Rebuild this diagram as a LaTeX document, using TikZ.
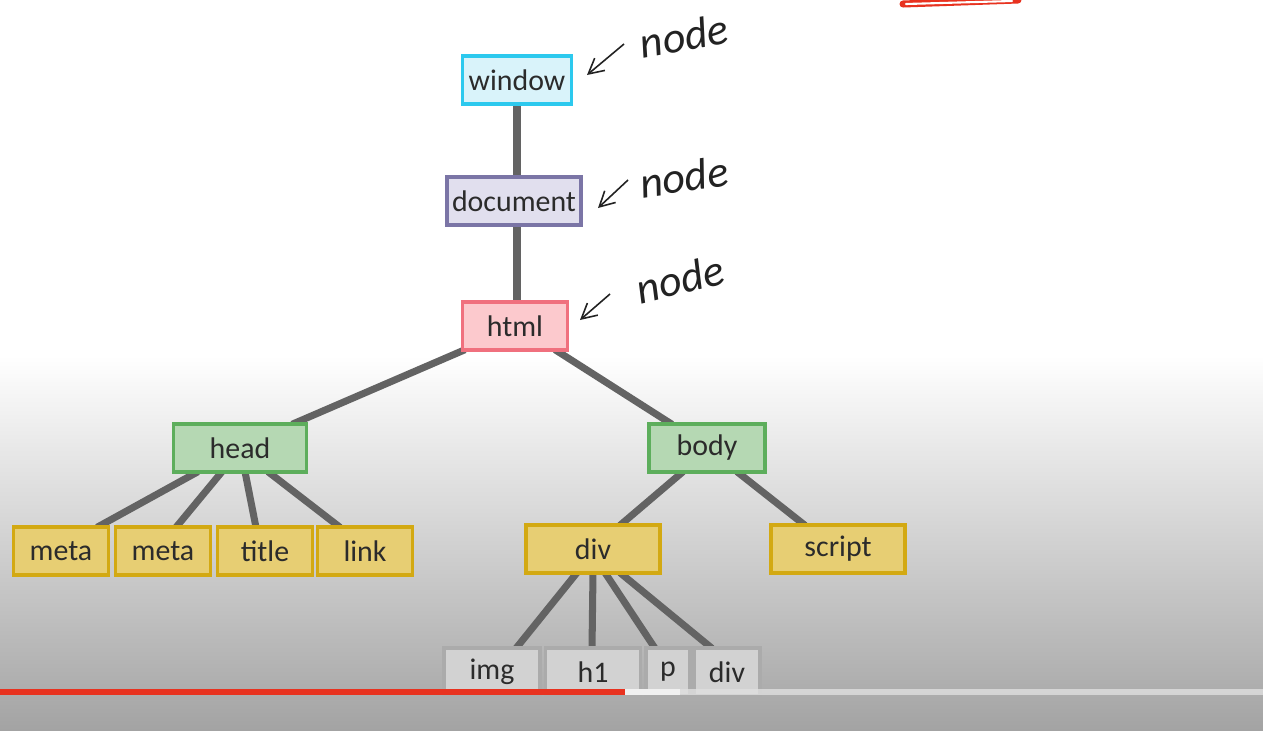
\documentclass[tikz,border=0pt]{standalone}
\usepackage{fontspec}
\setmainfont{Carlito}
\usetikzlibrary{arrows.meta, backgrounds}

\definecolor{edgegray}{HTML}{636363}
\definecolor{txtgray}{HTML}{2B2B2B}
\definecolor{winline}{HTML}{2CC9EE}
\definecolor{winfill}{HTML}{D9F3FA}
\definecolor{docline}{HTML}{7B75A6}
\definecolor{docfill}{HTML}{E1DFEE}
\definecolor{htmlline}{HTML}{F0707E}
\definecolor{htmlfill}{HTML}{FCC9CD}
\definecolor{headline}{HTML}{5DAE5C}
\definecolor{headfill}{HTML}{B5D8B3}
\definecolor{leafline}{HTML}{D3A912}
\definecolor{leaffill}{HTML}{E7CE73}
\definecolor{fadeline}{HTML}{ABABAB}
\definecolor{fadefill}{HTML}{D2D2D2}
\definecolor{barred}{HTML}{E8321F}
\definecolor{penink}{HTML}{222222}

\tikzset{
  tagbox/.style={draw, line width=2.2pt, minimum height=0.95cm, inner sep=0pt,
    text=txtgray, font=\fontsize{17}{20}\selectfont},
  winbox/.style={tagbox, draw=winline, fill=winfill},
  docbox/.style={tagbox, draw=docline, fill=docfill},
  htmlbox/.style={tagbox, draw=htmlline, fill=htmlfill},
  greenbox/.style={tagbox, draw=headline, fill=headfill},
  leafbox/.style={tagbox, draw=leafline, fill=leaffill},
  fadebox/.style={tagbox, draw=fadeline, fill=fadefill},
  branch/.style={line width=4pt, edgegray},
  notelabel/.style={font=\fontsize{25}{28}\selectfont\itshape, text=penink},
  notearrow/.style={penink, line width=0.9pt, -{Straight Barb[length=3mm, width=3.2mm]}}
}

\begin{document}
\begin{tikzpicture}[x=0.02cm, y=-0.02cm]
    \useasboundingbox (0,0) rectangle (1263,730);

    % --- Nền ảnh chụp màn hình ---
    \begin{scope}[on background layer]
        \fill[white] (0,0) rectangle (1263,730);
        \shade[top color=white, bottom color=gray!72] (0,355) rectangle (1263,730);
    \end{scope}

    % --- Nét bút đỏ phía trên ---
    \draw[barred, line width=4pt, line cap=round] (903,4) -- (1018,0);
    \draw[white, line width=1.2pt, line cap=round] (906,4) -- (1012,1);

    % --- Các nút của cây ---
    \node[winbox, minimum width=2.18cm] (window) at (517,80) {window};
    \node[docbox, minimum width=2.68cm] (document) at (514,201) {document};
    \node[htmlbox, minimum width=2.10cm] (html) at (515,326) {html};

    \node[greenbox, minimum width=2.66cm] (head) at (240,448) {head};
    \node[greenbox, minimum width=2.32cm] (body) at (707,448) {body};

    \node[leafbox, minimum width=1.90cm] (meta1) at (61,551) {meta};
    \node[leafbox, minimum width=1.90cm] (meta2) at (163,551) {meta};
    \node[leafbox, minimum width=1.90cm] (title) at (265,551) {title};
    \node[leafbox, minimum width=1.90cm] (link) at (365,551) {link};

    \node[leafbox, minimum width=2.68cm] (div) at (593,549) {div};
    \node[leafbox, minimum width=2.68cm] (script) at (838,549) {script};

    \node[fadebox, minimum width=1.92cm] (img) at (492,672) {img};
    \node[fadebox, minimum width=1.90cm] (h1) at (593,672) {h1};
    \node[fadebox, minimum width=0.88cm] (p) at (668,672) {p};
    \node[fadebox, minimum width=1.32cm] (div2) at (727,672) {div};

    % --- Các cạnh nối (nằm sau các hộp) ---
    \begin{scope}[on background layer]
        \draw[branch] ([shift={(0,-2)}]window.south) -- ([shift={(3,2)}]document.north);
        \draw[branch] ([shift={(3,-2)}]document.south) -- ([shift={(2,2)}]html.north);

        \draw[branch] ([shift={(-50,-2)}]html.south) -- ([shift={(52,2)}]head.north);
        \draw[branch] ([shift={(40,-2)}]html.south) -- ([shift={(-35,2)}]body.north);

        \draw[branch] ([shift={(-42,-2)}]head.south) -- ([shift={(36,2)}]meta1.north);
        \draw[branch] ([shift={(-18,-2)}]head.south) -- ([shift={(13,2)}]meta2.north);
        \draw[branch] ([shift={(5,-2)}]head.south) -- ([shift={(-9,2)}]title.north);
        \draw[branch] ([shift={(28,-2)}]head.south) -- ([shift={(-25,2)}]link.north);

        \draw[branch] ([shift={(-24,-2)}]body.south) -- ([shift={(27,2)}]div.north);
        \draw[branch] ([shift={(30,-2)}]body.south) -- ([shift={(-33,2)}]script.north);

        \draw[branch] ([shift={(-16,-2)}]div.south) -- ([shift={(24,2)}]img.north);
        \draw[branch] ([shift={(0,-2)}]div.south) -- ([shift={(-1,2)}]h1.north);
        \draw[branch] ([shift={(12,-2)}]div.south) -- ([shift={(-13,2)}]p.north);
        \draw[branch] ([shift={(27,-2)}]div.south) -- ([shift={(-15,2)}]div2.north);
    \end{scope}

    % --- Thanh tiến trình video ---
    \fill[gray!25, opacity=0.8] (0,689) rectangle (1263,695);
    \fill[gray!12] (625,689) rectangle (680,695);
    \fill[barred] (0,689) rectangle (625,695);

    % --- Chú thích viết tay ---
    \node[notelabel, rotate=10] (note1) at (684,36) {node};
    \node[notelabel, rotate=8] (note2) at (684,177) {node};
    \node[notelabel, rotate=14] (note3) at (680,279) {node};
    \coordinate (tip1) at (587,75);
    \coordinate (tip2) at (598,208);
    \coordinate (tip3) at (580,320);
    \draw[notearrow] (624,44) -- (tip1);
    \draw[notearrow] (628,180) -- (tip2);
    \draw[notearrow] (610,294) -- (tip3);
\end{tikzpicture}
\end{document}
